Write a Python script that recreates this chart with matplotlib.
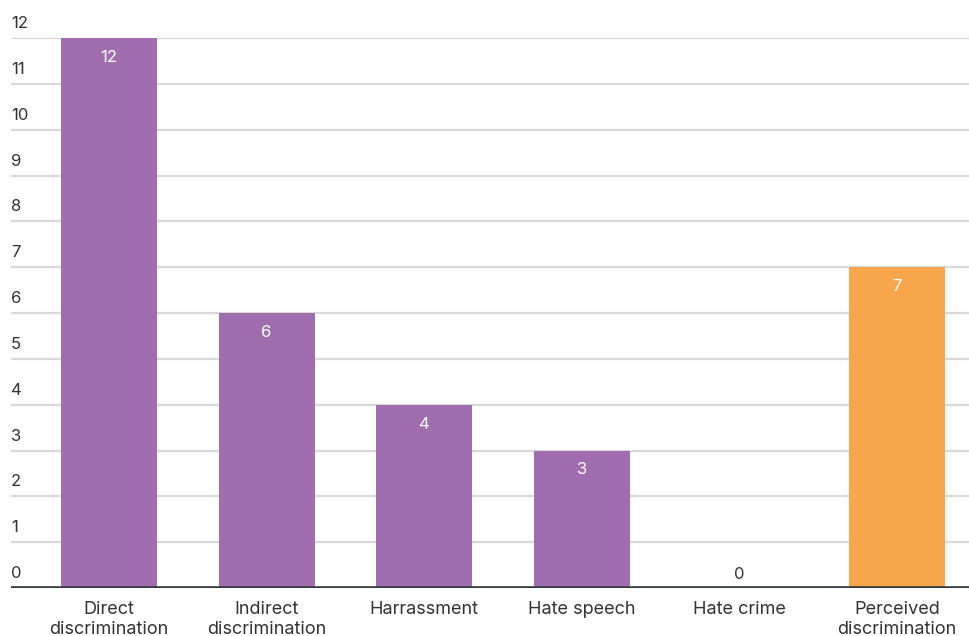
import matplotlib
matplotlib.use("Agg")
import matplotlib.pyplot as plt
import matplotlib.transforms as mtransforms

# Données
categories = ["Direct\ndiscrimination", "Indirect\ndiscrimination", "Harrassment",
              "Hate speech", "Hate crime", "Perceived\ndiscrimination"]
valeurs = [12, 6, 4, 3, 0, 7]
couleurs = ["#A06EAE"] * 5 + ["#F7A64B"]
y_ticks = list(range(0, 13))

plt.rcParams["font.family"] = ["Inter", "DejaVu Sans"]

fig = plt.figure(figsize=(9.69, 6.36), dpi=100)
ax = fig.add_axes([11 / 969, 48 / 636, 1 - 11 / 969, 550 / 636])

x = list(range(len(categories)))
ax.bar(x, valeurs, width=0.61, color=couleurs, zorder=2)

ax.set_xlim(-0.622, 5.457)
ax.set_ylim(0, 12)

# grille horizontale
for v in y_ticks[1:]:
    ax.axhline(v, color="#d9d9d9", lw=1.6, zorder=1)
ax.axhline(0, color="#333a40", lw=2.6, zorder=3)

# étiquettes de l'axe y posées au-dessus des lignes
trans = mtransforms.blended_transform_factory(ax.transAxes, ax.transData)
decal = mtransforms.ScaledTranslation(0, 5 / 72, fig.dpi_scale_trans)
for v in y_ticks:
    ax.text(0, v, str(v), transform=trans + decal, ha="left", va="bottom",
            fontsize=12, color="#333333")

# valeurs dans les barres
for xi, v in zip(x, valeurs):
    if v > 0:
        ax.annotate(str(v), (xi, v), xytext=(0, -14), textcoords="offset points",
                    ha="center", va="center", color="white", fontsize=12)
    else:
        ax.annotate(str(v), (xi, v), xytext=(0, 10), textcoords="offset points",
                    ha="center", va="center", color="#333333", fontsize=12)

ax.set_xticks(x, categories, fontsize=13, color="#333333", linespacing=1.3)
ax.tick_params(axis="x", length=0, pad=9)
ax.set_yticks([])
for s in ax.spines.values():
    s.set_visible(False)

fig.savefig("out.png", dpi=100)
